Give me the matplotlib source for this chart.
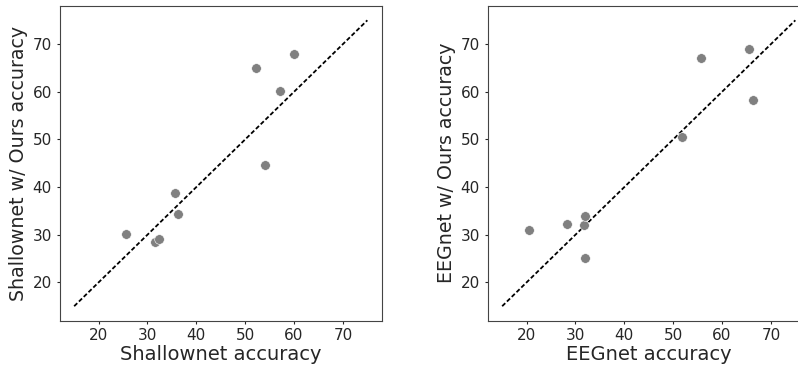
import matplotlib
matplotlib.use("Agg")
import matplotlib.pyplot as plt

# values
shallow_x = [25.7, 31.6, 32.3, 35.7, 36.3, 52.2, 54.1, 57.2, 59.9]
shallow_y = [30.2, 28.5, 29.1, 38.8, 34.4, 65.0, 44.7, 60.1, 68.0]

eeg_x = [20.5, 28.2, 31.7, 32.0, 32.0, 51.8, 55.6, 65.6, 66.4]
eeg_y = [30.9, 32.2, 32.0, 34.0, 25.2, 50.6, 67.0, 69.0, 58.3]

diag = [15, 75]
ticks = [20, 30, 40, 50, 60, 70]

W, H = 798, 367
fig = plt.figure(figsize=(W / 100, H / 100), dpi=100, facecolor="white")

# axes boxes in pixels: left, top, width, height
boxes = [(59.5, 6, 322.5, 314.5), (487.5, 6, 322.5, 314.5)]
panels = [
    (shallow_x, shallow_y, "Shallownet accuracy", "Shallownet w/ Ours accuracy"),
    (eeg_x, eeg_y, "EEGnet accuracy", "EEGnet w/ Ours accuracy"),
]

for (l, t, w, h), (xs, ys, xl, yl) in zip(boxes, panels):
    ax = fig.add_axes([l / W, 1 - (t + h) / H, w / W, h / H])
    ax.plot(diag, diag, color="black", linestyle=(0, (2.4, 1.3)), linewidth=1.3)
    ax.scatter(xs, ys, s=48, color="gray", edgecolor="white", linewidth=0.4, zorder=3)
    ax.set_xticks(ticks)
    ax.set_yticks(ticks)
    ax.tick_params(labelsize=11, colors="#262626", length=2.5, pad=3)
    for sp in ax.spines.values():
        sp.set_color("#444444")
    ax.set_xlabel(xl, fontsize=14, color="#262626", labelpad=1)
    ax.set_ylabel(yl, fontsize=13.7, color="#262626", labelpad=3)

fig.savefig("out.png", dpi=100, facecolor="white")
